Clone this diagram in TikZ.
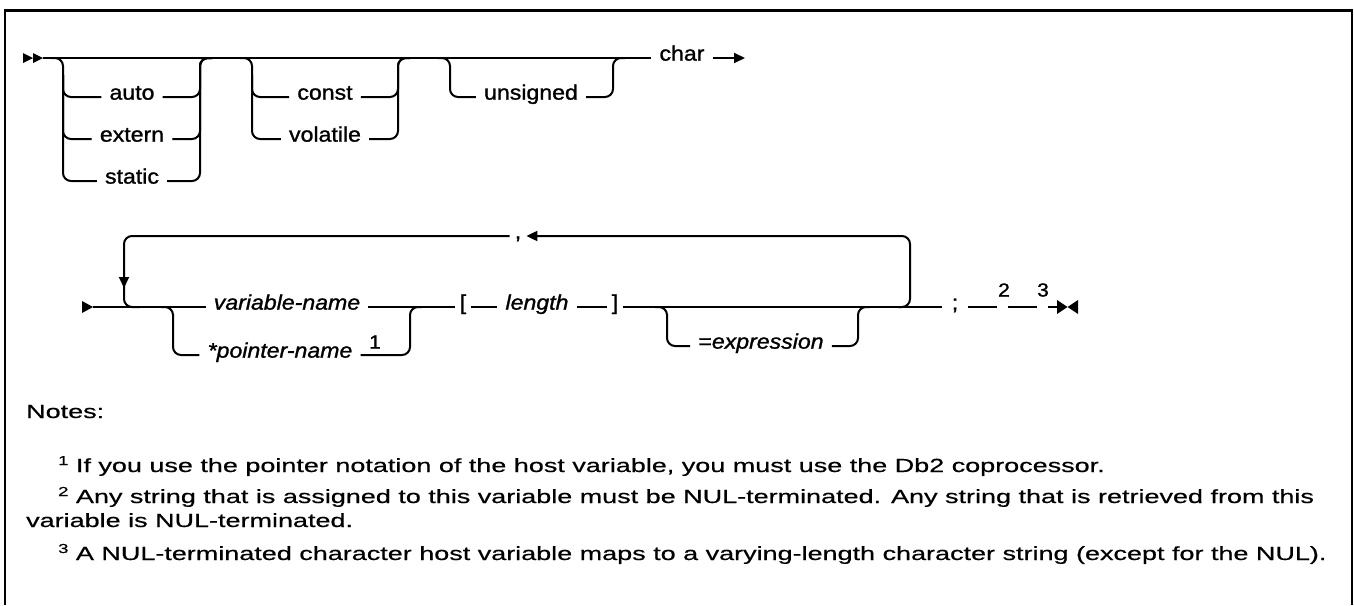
\documentclass[tikz,border=0pt]{standalone}
\usepackage{fontspec}
\setmainfont{Liberation Sans}
\newfontfamily\diagfont[FakeStretch=1.1,FakeBold=1.2]{Liberation Sans}
\newfontfamily\notefont[FakeStretch=1.42,FakeBold=0.6]{Liberation Sans}
\usetikzlibrary{arrows.meta}
\newcommand{\nsup}[1]{\raisebox{7pt}{\fontsize{13}{13}\selectfont #1}}
\begin{document}
\begin{tikzpicture}[x=1pt,y=-1pt,
  rail/.style={line width=2pt, rounded corners=8pt},
  tip/.style={-{Triangle[length=11pt,width=10pt]}},
  kw/.style={anchor=mid, inner xsep=8pt, inner ysep=2pt, font=\diagfont\fontsize{21}{24}\selectfont},
  var/.style={kw, font=\diagfont\itshape\fontsize{21}{24}\selectfont},
  sym/.style={kw, inner xsep=5pt},
  fn/.style={anchor=center, inner sep=0pt, font=\diagfont\fontsize{19}{19}\selectfont},
  note/.style={anchor=base west, inner sep=0pt, font=\notefont\fontsize{19}{23}\selectfont}]
\useasboundingbox (0,0) rectangle (1354,605);
% frame
\draw[line width=2.5pt] (5,605) -- (5,10.5) -- (1352,10.5) -- (1352,605);

% ---------- first line ----------
\fill (23,53) -- (33,58) -- (23,63) -- cycle;
\fill (33,53) -- (43,58) -- (33,63) -- cycle;
\coordinate (s1) at (43,58);
\node[kw] (char) at (682,58) {char};
\coordinate (e1) at (745,58);
\node[kw] (auto) at (132,97) {auto};
\node[kw] (extern) at (132,139) {extern};
\node[kw] (static) at (132,181) {static};
\node[kw] (const) at (325,97) {const};
\node[kw] (volatile) at (325,139) {volatile};
\node[kw] (unsigned) at (531,97) {unsigned};

\coordinate (g1a) at (51,58);  \coordinate (g1v) at (63,75);
\coordinate (g1r) at (200,58); \coordinate (g1b) at (212,58);
\coordinate (g2a) at (240,58); \coordinate (g2v) at (252,75);
\coordinate (g2r) at (398,58); \coordinate (g2b) at (410,58);
\coordinate (g3a) at (438,58); \coordinate (g3v) at (450,75);
\coordinate (g3r) at (613,58); \coordinate (g3b) at (625,58);

\draw[rail] (s1) -- (char.mid west);
\draw[rail,tip] (char.mid east) -- (e1);

\draw[rail] (g1a) -| (g1v) |- (static.mid west);
\draw[rail] (g1v) |- (auto.mid west);
\draw[rail] (g1v) |- (extern.mid west);
\draw[rail] (auto.mid east) -| (g1r) -- (g1b);
\draw[rail] (extern.mid east) -| (g1r) -- (g1b);
\draw[rail] (static.mid east) -| (g1r) -- (g1b);

\draw[rail] (g2a) -| (g2v) |- (volatile.mid west);
\draw[rail] (g2v) |- (const.mid west);
\draw[rail] (const.mid east) -| (g2r) -- (g2b);
\draw[rail] (volatile.mid east) -| (g2r) -- (g2b);

\draw[rail] (g3a) -| (g3v) |- (unsigned.mid west);
\draw[rail] (unsigned.mid east) -| (g3r) -- (g3b);

% ---------- second line ----------
\fill (82,301) -- (93,307) -- (82,313) -- cycle;
\coordinate (s2) at (93,307);
\node[var] (vname) at (287,307) {variable-name};
\node[var] (pname) at (280,355) {*pointer-name};
\node[fn] (f1) at (375,342) {1};
\node[sym] (lbr) at (463,307) {[};
\node[var] (len) at (537,307) {length};
\node[sym] (rbr) at (615,307) {]};
\node[kw] (expr) at (761,346) {=\textit{expression}};
\node[sym] (comma) at (518,236) {,};
\node[kw, inner xsep=10pt] (semi) at (955,307) {;};
\node[fn] (f2) at (1004,290) {2};
\node[fn] (f3) at (1043,290) {3};

\coordinate (v0) at (161,307); \coordinate (vv) at (173,322);
\coordinate (vr) at (410,307); \coordinate (vb) at (422,307);
\coordinate (x0) at (655,307); \coordinate (xv) at (667,322);
\coordinate (xr) at (858,307); \coordinate (xb) at (870,307);
\coordinate (lr0) at (898,307); \coordinate (lrt) at (910,236);
\coordinate (llb) at (124,307); \coordinate (llc) at (140,307);
\coordinate (lpa) at (124,262); \coordinate (lpb) at (124,288);
\coordinate (c1) at (997,307); \coordinate (c2) at (1008,307);
\coordinate (c3) at (1037,307); \coordinate (c4) at (1048,307);
\coordinate (c5) at (1057,307);

\draw[rail] (s2) -- (vname.mid west);
\draw[rail] (v0) -| (vv) |- (pname.mid west);
\draw[rail] (pname.mid east) -| (vr) -- (vb);
\draw[rail] (vname.mid east) -- (lbr.mid west);
\draw[rail] (lbr.mid east) -- (len.mid west);
\draw[rail] (len.mid east) -- (rbr.mid west);
\draw[rail] (rbr.mid east) -- (semi.mid west);
\draw[rail] (x0) -| (xv) |- (expr.mid west);
\draw[rail] (expr.mid east) -| (xr) -- (xb);
\draw[rail,tip] (lr0) -| (lrt) -- (comma.mid east);
\draw[rail] (comma.mid west) -| (llb) -- (llc);
\draw[rail,tip] (lpa) -- (lpb);
\draw[rail] (semi.mid east) -- (c1);
\draw[rail] (c2) -- (c3);
\draw[rail] (c4) -- (c5);
\fill (1057,300) -- (1067.5,307) -- (1057,314) -- cycle;
\fill (1078,300) -- (1067.5,307) -- (1078,314) -- cycle;

% ---------- notes ----------
\node[note] (notes) at (26,418) {Notes:};
\node[note] (n1) at (58,472) {\nsup{1} If you use the pointer notation of the host variable, you must use the Db2 coprocessor.};
\node[note] (n2) at (58,503) {\nsup{2} Any string that is assigned to this variable must be NUL-terminated. Any string that is retrieved from this};
\node[note] (n2b) at (26,527) {variable is NUL-terminated.};
\node[note] (n3) at (58,560) {\nsup{3} A NUL-terminated character host variable maps to a varying-length character string (except for the NUL).};
\end{tikzpicture}
\end{document}
